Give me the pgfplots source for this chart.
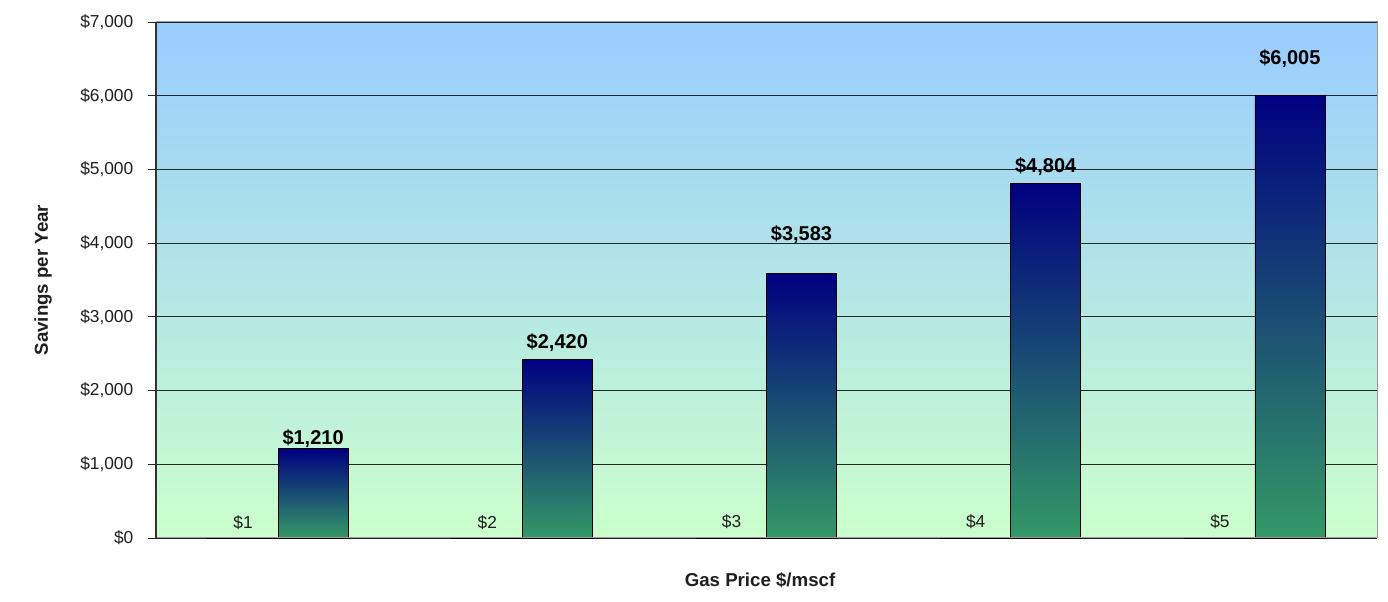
\documentclass[border=0pt]{standalone}
\usepackage{pgfplots}
\pgfplotsset{compat=1.18}
\usepackage{fontspec}
\setmainfont{Liberation Sans}
\definecolor{bgtop}{RGB}{153,204,255}
\definecolor{bgbot}{RGB}{204,255,204}
\definecolor{bartop}{RGB}{0,0,128}
\definecolor{barbot}{RGB}{51,153,102}
\definecolor{txt}{RGB}{30,30,30}

\begin{document}
\begin{tikzpicture}
\begin{axis}[name=ax, scale only axis, width=915.75pt, height=387pt,
  ybar, bar width=0.2866,
  xmin=-0.5, xmax=4.5, ymin=0, ymax=7000,
  xtick=\empty,
  ytick={0,1000,...,7000},
  /pgf/number format/assume math mode=true,
  yticklabel={\$\pgfmathprintnumber[fixed,precision=0,1000 sep={,}]{\tick}},
  yticklabel style={font=\fontsize{13}{15}\selectfont, text=txt, xshift=-7.5pt},
  ymajorgrids, grid style={black!85, line width=0.6pt},
  axis line style={draw=none},
  tick align=outside, ytick pos=left, major tick length=6pt,
  ytick style={black!85, line width=0.6pt},
  axis background/.style={top color=bgtop, bottom color=bgbot},
  clip=false,
  every axis y label/.style={at={(rel axis cs:-0.0925,0.5)}, rotate=90, anchor=center,
    font=\bfseries\fontsize{14}{16}\selectfont, text=txt},
  every axis x label/.style={at={(rel axis cs:0.4947,-0.0814)}, anchor=center,
    font=\bfseries\fontsize{14}{16}\selectfont, text=txt},
  ylabel={Savings per Year},
  xlabel={Gas Price \$/mscf},
  nodes near coords={\$\pgfmathprintnumber[fixed,precision=0,1000 sep={,}]{\pgfplotspointmeta}},
  gasbar/.style={bar shift=-0.1433, fill=black, draw=black, line width=1.3pt,
    every node near coord/.append style={yshift=2.5pt, font=\fontsize{13}{15}\selectfont, text=txt}},
  savebar/.style={bar shift=0.1433, draw=black, line width=0.6pt, top color=bartop, bottom color=barbot,
    every node near coord/.append style={yshift=#1, font=\bfseries\fontsize{15}{18}\selectfont, text=black}},
]
% Gas price series ($/mscf)
\addplot[gasbar] coordinates {(0,1) (1,2) (2,3) (3,4) (4,5)};
% Savings per year, one bar per plot so each bar carries its own gradient
\addplot[savebar=-2.8pt] coordinates {(0,1210)};
\addplot[savebar=2.5pt] coordinates {(1,2420)};
\addplot[savebar=19pt] coordinates {(2,3583)};
\addplot[savebar=2.5pt] coordinates {(3,4804)};
\addplot[savebar=17.5pt] coordinates {(4,6005)};
\draw[gray!80, line width=0.75pt] (rel axis cs:0,1) -- (rel axis cs:1,1) -- (rel axis cs:1,0) -- (rel axis cs:0,0);
\draw[black!80, line width=0.9pt] (rel axis cs:0,0) -- (rel axis cs:0,1);
\end{axis}
\pgfresetboundingbox
\path[use as bounding box] ([xshift=-117pt,yshift=-48pt]ax.south west) rectangle ([xshift=8.25pt,yshift=16.5pt]ax.north east);
\end{tikzpicture}
\end{document}
